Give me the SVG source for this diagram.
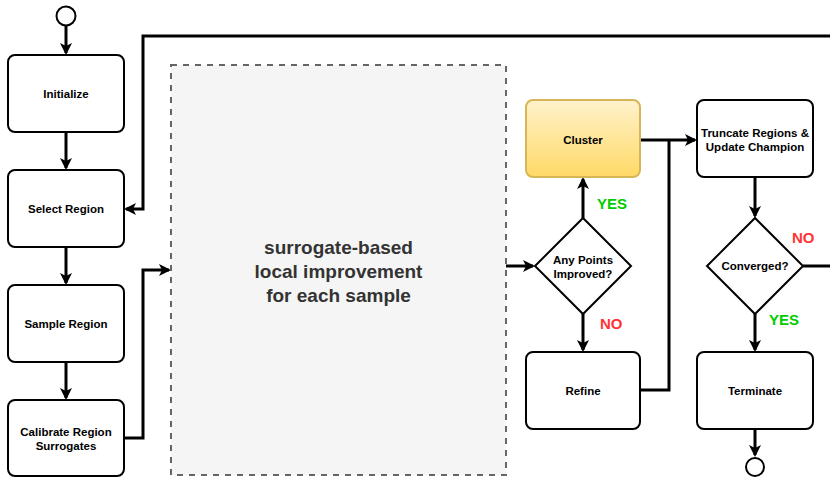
<svg xmlns="http://www.w3.org/2000/svg" width="830" height="477" viewBox="0 0 830 477">
  <style>
    .box { fill: #ffffff; stroke: #000000; stroke-width: 2; }
    .lbl { font-family: "Liberation Sans", Arial, sans-serif; font-size: 11.5px; font-weight: bold; fill: #000000; text-anchor: middle; }
    .edge { fill: none; stroke: #000000; stroke-width: 3; }
    .yes { font-family: "Liberation Sans", Arial, sans-serif; font-size: 15px; font-weight: bold; fill: #00cc00; }
    .no { font-family: "Liberation Sans", Arial, sans-serif; font-size: 15px; font-weight: bold; fill: #ff3333; }
    .big { font-family: "Liberation Sans", Arial, sans-serif; font-size: 19px; font-weight: bold; fill: #333333; text-anchor: middle; }
  </style>
  <defs>
    <marker id="arrow" markerWidth="12" markerHeight="12" refX="10" refY="6" orient="auto" markerUnits="userSpaceOnUse" viewBox="0 0 12 12">
      <path d="M0,0 L12,6 L0,12 L3,6 Z" fill="#000000"/>
    </marker>
    <linearGradient id="gold" x1="0" y1="0" x2="0" y2="1">
      <stop offset="0" stop-color="#fff2cc"/>
      <stop offset="1" stop-color="#ffd966"/>
    </linearGradient>
  </defs>

  <rect width="830" height="477" fill="#ffffff"/>

  <!-- connectors -->
  <g id="connectors">
    <path class="edge" d="M66,26 V53" marker-end="url(#arrow)"/>
    <path class="edge" d="M66,132 V168" marker-end="url(#arrow)"/>
    <path class="edge" d="M66,247 V283" marker-end="url(#arrow)"/>
    <path class="edge" d="M66,362 V398" marker-end="url(#arrow)"/>
    <path class="edge" d="M830,36 H143 V209 H126" marker-end="url(#arrow)"/>
    <path class="edge" d="M124,438 H143 V270 H169" marker-end="url(#arrow)"/>
    <path class="edge" d="M506,266 H533" marker-end="url(#arrow)"/>
    <path class="edge" d="M583,218 V179" marker-end="url(#arrow)"/>
    <path class="edge" d="M583,314 V350" marker-end="url(#arrow)"/>
    <path class="edge" d="M640,140 H695" marker-end="url(#arrow)"/>
    <path class="edge" d="M640,390 H669 V140"/>
    <path class="edge" d="M755,177 V216" marker-end="url(#arrow)"/>
    <path class="edge" d="M755,314 V350" marker-end="url(#arrow)"/>
    <path class="edge" d="M755,429 V455" marker-end="url(#arrow)"/>
    <path class="edge" d="M803,266 H830"/>
  </g>

  <g id="start">
    <circle cx="66" cy="16" r="9.5" fill="#ffffff" stroke="#000000" stroke-width="2"/>
  </g>

  <g id="initialize">
    <rect class="box" x="8" y="55" width="116" height="77" rx="7"/>
    <text class="lbl" x="66" y="97.5">Initialize</text>
  </g>

  <g id="select-region">
    <rect class="box" x="8" y="170" width="116" height="77" rx="7"/>
    <text class="lbl" x="66" y="212.5">Select Region</text>
  </g>

  <g id="sample-region">
    <rect class="box" x="8" y="285" width="116" height="77" rx="7"/>
    <text class="lbl" x="66" y="327.5">Sample Region</text>
  </g>

  <g id="calibrate">
    <rect class="box" x="8" y="400" width="116" height="76" rx="7"/>
    <text class="lbl" x="66" y="435.5">Calibrate Region</text>
    <text class="lbl" x="66" y="449.5">Surrogates</text>
  </g>

  <g id="local-improvement">
    <rect x="171" y="65" width="335" height="410" fill="#f5f5f5" stroke="#666666" stroke-width="2" stroke-dasharray="6 6"/>
    <text class="big" x="338.5" y="254">surrogate-based</text>
    <text class="big" x="338.5" y="278">local improvement</text>
    <text class="big" x="338.5" y="302">for each sample</text>
  </g>

  <g id="any-improved">
    <path d="M583,218 L631,266 L583,314 L535,266 Z" fill="#ffffff" stroke="#000000" stroke-width="2"/>
    <text class="lbl" x="583" y="264">Any Points</text>
    <text class="lbl" x="583" y="278">Improved?</text>
  </g>

  <g id="cluster">
    <rect x="526" y="100" width="114" height="77" rx="7" fill="url(#gold)" stroke="#d6b656" stroke-width="2"/>
    <text class="lbl" x="583" y="143.5">Cluster</text>
  </g>

  <g id="refine">
    <rect class="box" x="526" y="352" width="114" height="77" rx="7"/>
    <text class="lbl" x="583" y="394.5">Refine</text>
  </g>

  <g id="truncate">
    <rect class="box" x="697" y="100" width="116" height="77" rx="7"/>
    <text class="lbl" x="755" y="137">Truncate Regions &amp;</text>
    <text class="lbl" x="755" y="151">Update Champion</text>
  </g>

  <g id="converged">
    <path d="M755,218 L803,266 L755,314 L707,266 Z" fill="#ffffff" stroke="#000000" stroke-width="2"/>
    <text class="lbl" x="755" y="270">Converged?</text>
  </g>

  <g id="terminate">
    <rect class="box" x="697" y="352" width="116" height="77" rx="7"/>
    <text class="lbl" x="755" y="394.5">Terminate</text>
  </g>

  <g id="end">
    <circle cx="755" cy="467" r="9" fill="#ffffff" stroke="#000000" stroke-width="2"/>
  </g>

  <g id="branch-labels">
    <text class="yes" x="597" y="209">YES</text>
    <text class="no" x="600" y="329">NO</text>
    <text class="no" x="792" y="243">NO</text>
    <text class="yes" x="769" y="325">YES</text>
  </g>
</svg>
